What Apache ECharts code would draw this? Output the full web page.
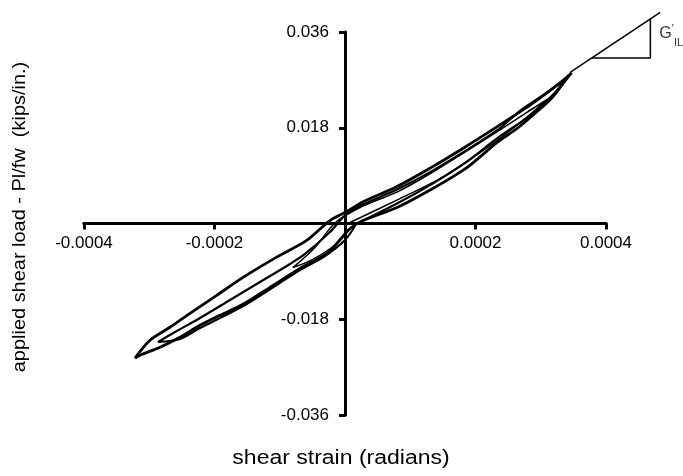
<!DOCTYPE html>
<html>
<head>
<meta charset="utf-8">
<script src="https://cdn.jsdelivr.net/npm/echarts@6/dist/echarts.min.js"></script>
<style>
  html, body { margin: 0; padding: 0; background: #fff; }
  #chart { width: 683px; height: 476px; }
</style>
</head>
<body>
<div id="chart"></div>
<script>
// [shear strain (radians), applied shear load Pl/fw (kips/in.)]
var loopOne = [
  [0.0003473, 0.02830], [0.0003264, 0.02616], [0.0002851, 0.02239], [0.0002345, 0.01830],
  [0.0001824, 0.01425], [0.0001318, 0.01050], [0.0000797, 0.00694], [0.0000285, 0.00413],
  [0.0000028, 0.00225], [-0.0000230, 0.00056], [-0.0000587, -0.00319], [-0.0001047, -0.00632],
  [-0.0001563, -0.01013], [-0.0001966, -0.01350], [-0.0002376, -0.01688], [-0.0002682, -0.01950],
  [-0.0002989, -0.02194], [-0.0003218, -0.02531],
  [-0.0003142, -0.02475], [-0.0002835, -0.02325], [-0.0002529, -0.02138], [-0.0002222, -0.01913],
  [-0.0001916, -0.01725], [-0.0001563, -0.01519], [-0.0001103, -0.01163], [-0.0000690, -0.00844],
  [-0.0000276, -0.00563], [-0.0000046, -0.00263], [0.0000077, -0.00094], [0.0000276, 0.00056],
  [0.0000797, 0.00300], [0.0001318, 0.00638], [0.0001824, 0.01013], [0.0002038, 0.01219],
  [0.0002345, 0.01538], [0.0002651, 0.01800], [0.0002958, 0.02119], [0.0003172, 0.02363],
  [0.0003372, 0.02681], [0.0003473, 0.02830]
];
var loopTwo = [
  [0.0000153, -0.00019], [0.0000797, 0.00375], [0.0001318, 0.00731], [0.0001824, 0.01125],
  [0.0002345, 0.01613], [0.0002851, 0.02044], [0.0003172, 0.02400], [0.0003387, 0.02720],
  [0.0003065, 0.02438], [0.0002682, 0.02119], [0.0002345, 0.01763], [0.0001824, 0.01350],
  [0.0001318, 0.00975], [0.0000797, 0.00638], [0.0000276, 0.00356], [0.0000000, 0.00150],
  [-0.0000230, -0.00160], [-0.0000613, -0.00573], [-0.0000843, -0.00761], [-0.0001303, -0.01100],
  [-0.0001762, -0.01438], [-0.0002222, -0.01777], [-0.0002605, -0.02040], [-0.0002866, -0.02228],
  [-0.0002529, -0.02171], [-0.0002222, -0.01965], [-0.0001916, -0.01777], [-0.0001533, -0.01532],
  [-0.0001073, -0.01175], [-0.0000690, -0.00874], [-0.0000307, -0.00611], [0.0000000, -0.00310],
  [0.0000153, -0.00047]
];
var loopThree = [
  [0.0000077, 0.00019], [0.0000843, 0.00469], [0.0001456, 0.00844], [0.0002069, 0.01331],
  [0.0002682, 0.01894], [0.0003111, 0.02344], [0.0002682, 0.02006], [0.0002069, 0.01519],
  [0.0001456, 0.01050], [0.0000843, 0.00619], [0.0000230, 0.00300], [-0.0000153, 0.00010],
  [-0.0000460, -0.00450], [-0.0000800, -0.00830], [-0.0000500, -0.00680], [-0.0000150, -0.00400],
  [0.0000077, -0.00100]
];
var secantLine = [[0.000345, 0.0284], [0.000483, 0.0397]];
var slopeTriangle = [[0.000378, 0.0311], [0.000468, 0.0311], [0.000468, 0.0385]];
var slopeLabelAt = [[0.000481, 0.0357]];

var strainTicks = { min: -0.0004, max: 0.0004, step: 0.0002 };
var loadTicks = { min: -0.036, max: 0.036, step: 0.018 };
// wider hidden frame with the same scale, so marks can run past the axis ends
var strainRoom = { min: -0.0004, max: 0.0005 };
var loadRoom = { min: -0.036, max: 0.0414 };

var font = 'Liberation Sans, Arial, sans-serif';

var W = 683, H = 476;
var plot = { left: 84, right: 77, top: 32, bottom: 61 };
var plotW = W - plot.left - plot.right, plotH = H - plot.top - plot.bottom;
var pxPerX = plotW / (strainTicks.max - strainTicks.min);
var pxPerY = plotH / (loadTicks.max - loadTicks.min);
var roomGrid = {
  left: plot.left,
  right: W - plot.left - (strainRoom.max - strainRoom.min) * pxPerX,
  bottom: plot.bottom,
  top: H - plot.bottom - (loadRoom.max - loadRoom.min) * pxPerY
};
// shift the visible axes onto the zero lines
var yShift = -(0 - strainTicks.min) * pxPerX;
var xShift = -(0 - loadTicks.min) * pxPerY;

function hideZero(digits) {
  return function (v) {
    if (Math.abs(v) < 1e-10) return '';
    return v.toFixed(digits);
  };
}

var chart = echarts.init(document.getElementById('chart'));

function lineOf(data, width) {
  return {
    type: 'line',
    xAxisIndex: 2,
    yAxisIndex: 2,
    data: data,
    showSymbol: false,
    smooth: 0.3,
    silent: true,
    lineStyle: { color: '#000', width: width }
  };
}

var axisLine = { onZero: false, lineStyle: { color: '#000', width: 3 } };
var tick = { show: true, length: 6, lineStyle: { color: '#000', width: 3 } };
var tickIn = { show: true, inside: true, length: 6, lineStyle: { color: '#000', width: 3 } };

chart.setOption({
  animation: false,
  backgroundColor: '#fff',
  grid: [plot, roomGrid],
  xAxis: [
    {
      type: 'value', gridIndex: 0, min: strainTicks.min, max: strainTicks.max, interval: strainTicks.step,
      offset: xShift, axisLine: axisLine, axisTick: tick,
      axisLabel: { margin: 11, color: '#000', fontSize: 17, fontFamily: font, formatter: hideZero(4) },
      splitLine: { show: false }
    },
    {
      type: 'value', gridIndex: 0, min: strainTicks.min, max: strainTicks.max, interval: strainTicks.step,
      offset: xShift, axisLine: axisLine, axisTick: tickIn,
      axisLabel: { show: false }, splitLine: { show: false }
    },
    { type: 'value', gridIndex: 1, min: strainRoom.min, max: strainRoom.max, show: false }
  ],
  yAxis: [
    {
      type: 'value', gridIndex: 0, min: loadTicks.min, max: loadTicks.max, interval: loadTicks.step,
      offset: yShift, axisLine: axisLine, axisTick: tick,
      axisLabel: { margin: 16, color: '#000', fontSize: 17, fontFamily: font, formatter: hideZero(3) },
      splitLine: { show: false }
    },
    {
      type: 'value', gridIndex: 0, min: loadTicks.min, max: loadTicks.max, interval: loadTicks.step,
      offset: yShift, axisLine: axisLine, axisTick: tickIn,
      axisLabel: { show: false }, splitLine: { show: false }
    },
    { type: 'value', gridIndex: 1, min: loadRoom.min, max: loadRoom.max, show: false }
  ],
  series: [
    lineOf(loopOne, 2.8),
    lineOf(loopTwo, 2.2),
    lineOf(loopThree, 1.5),
    Object.assign(lineOf(secantLine, 1.5), { smooth: false }),
    Object.assign(lineOf(slopeTriangle, 1.5), { smooth: false }),
    {
      type: 'scatter',
      xAxisIndex: 2,
      yAxisIndex: 2,
      data: slopeLabelAt,
      symbolSize: 1,
      silent: true,
      itemStyle: { color: 'rgba(0,0,0,0)' },
      label: {
        show: true,
        position: 'right',
        distance: 0,
        color: '#000',
        fontFamily: font,
        formatter: '{g|G}{p|\'}{s|IL}',
        rich: {
          g: { fontSize: 16, fontFamily: font, color: '#000', lineHeight: 20 },
          p: { fontSize: 11, fontFamily: font, color: '#000', verticalAlign: 'top', lineHeight: 20 },
          s: { fontSize: 11, fontFamily: font, color: '#000', verticalAlign: 'bottom', lineHeight: 14, padding: [0, 0, -5, 0] }
        }
      }
    }
  ],
  graphic: [
    {
      type: 'text', x: 341, y: 458, scaleX: 1.15,
      style: {
        text: 'shear strain (radians)', fontSize: 20, fontFamily: font, fill: '#000',
        align: 'center', verticalAlign: 'middle'
      }
    },
    {
      type: 'text', x: 20, y: 217, rotation: Math.PI / 2, scaleX: 1.05,
      style: {
        text: 'applied shear load - Pl/fw  (kips/in.)', fontSize: 19, fontFamily: font, fill: '#000',
        align: 'center', verticalAlign: 'middle'
      }
    }
  ]
});
</script>
</body>
</html>
